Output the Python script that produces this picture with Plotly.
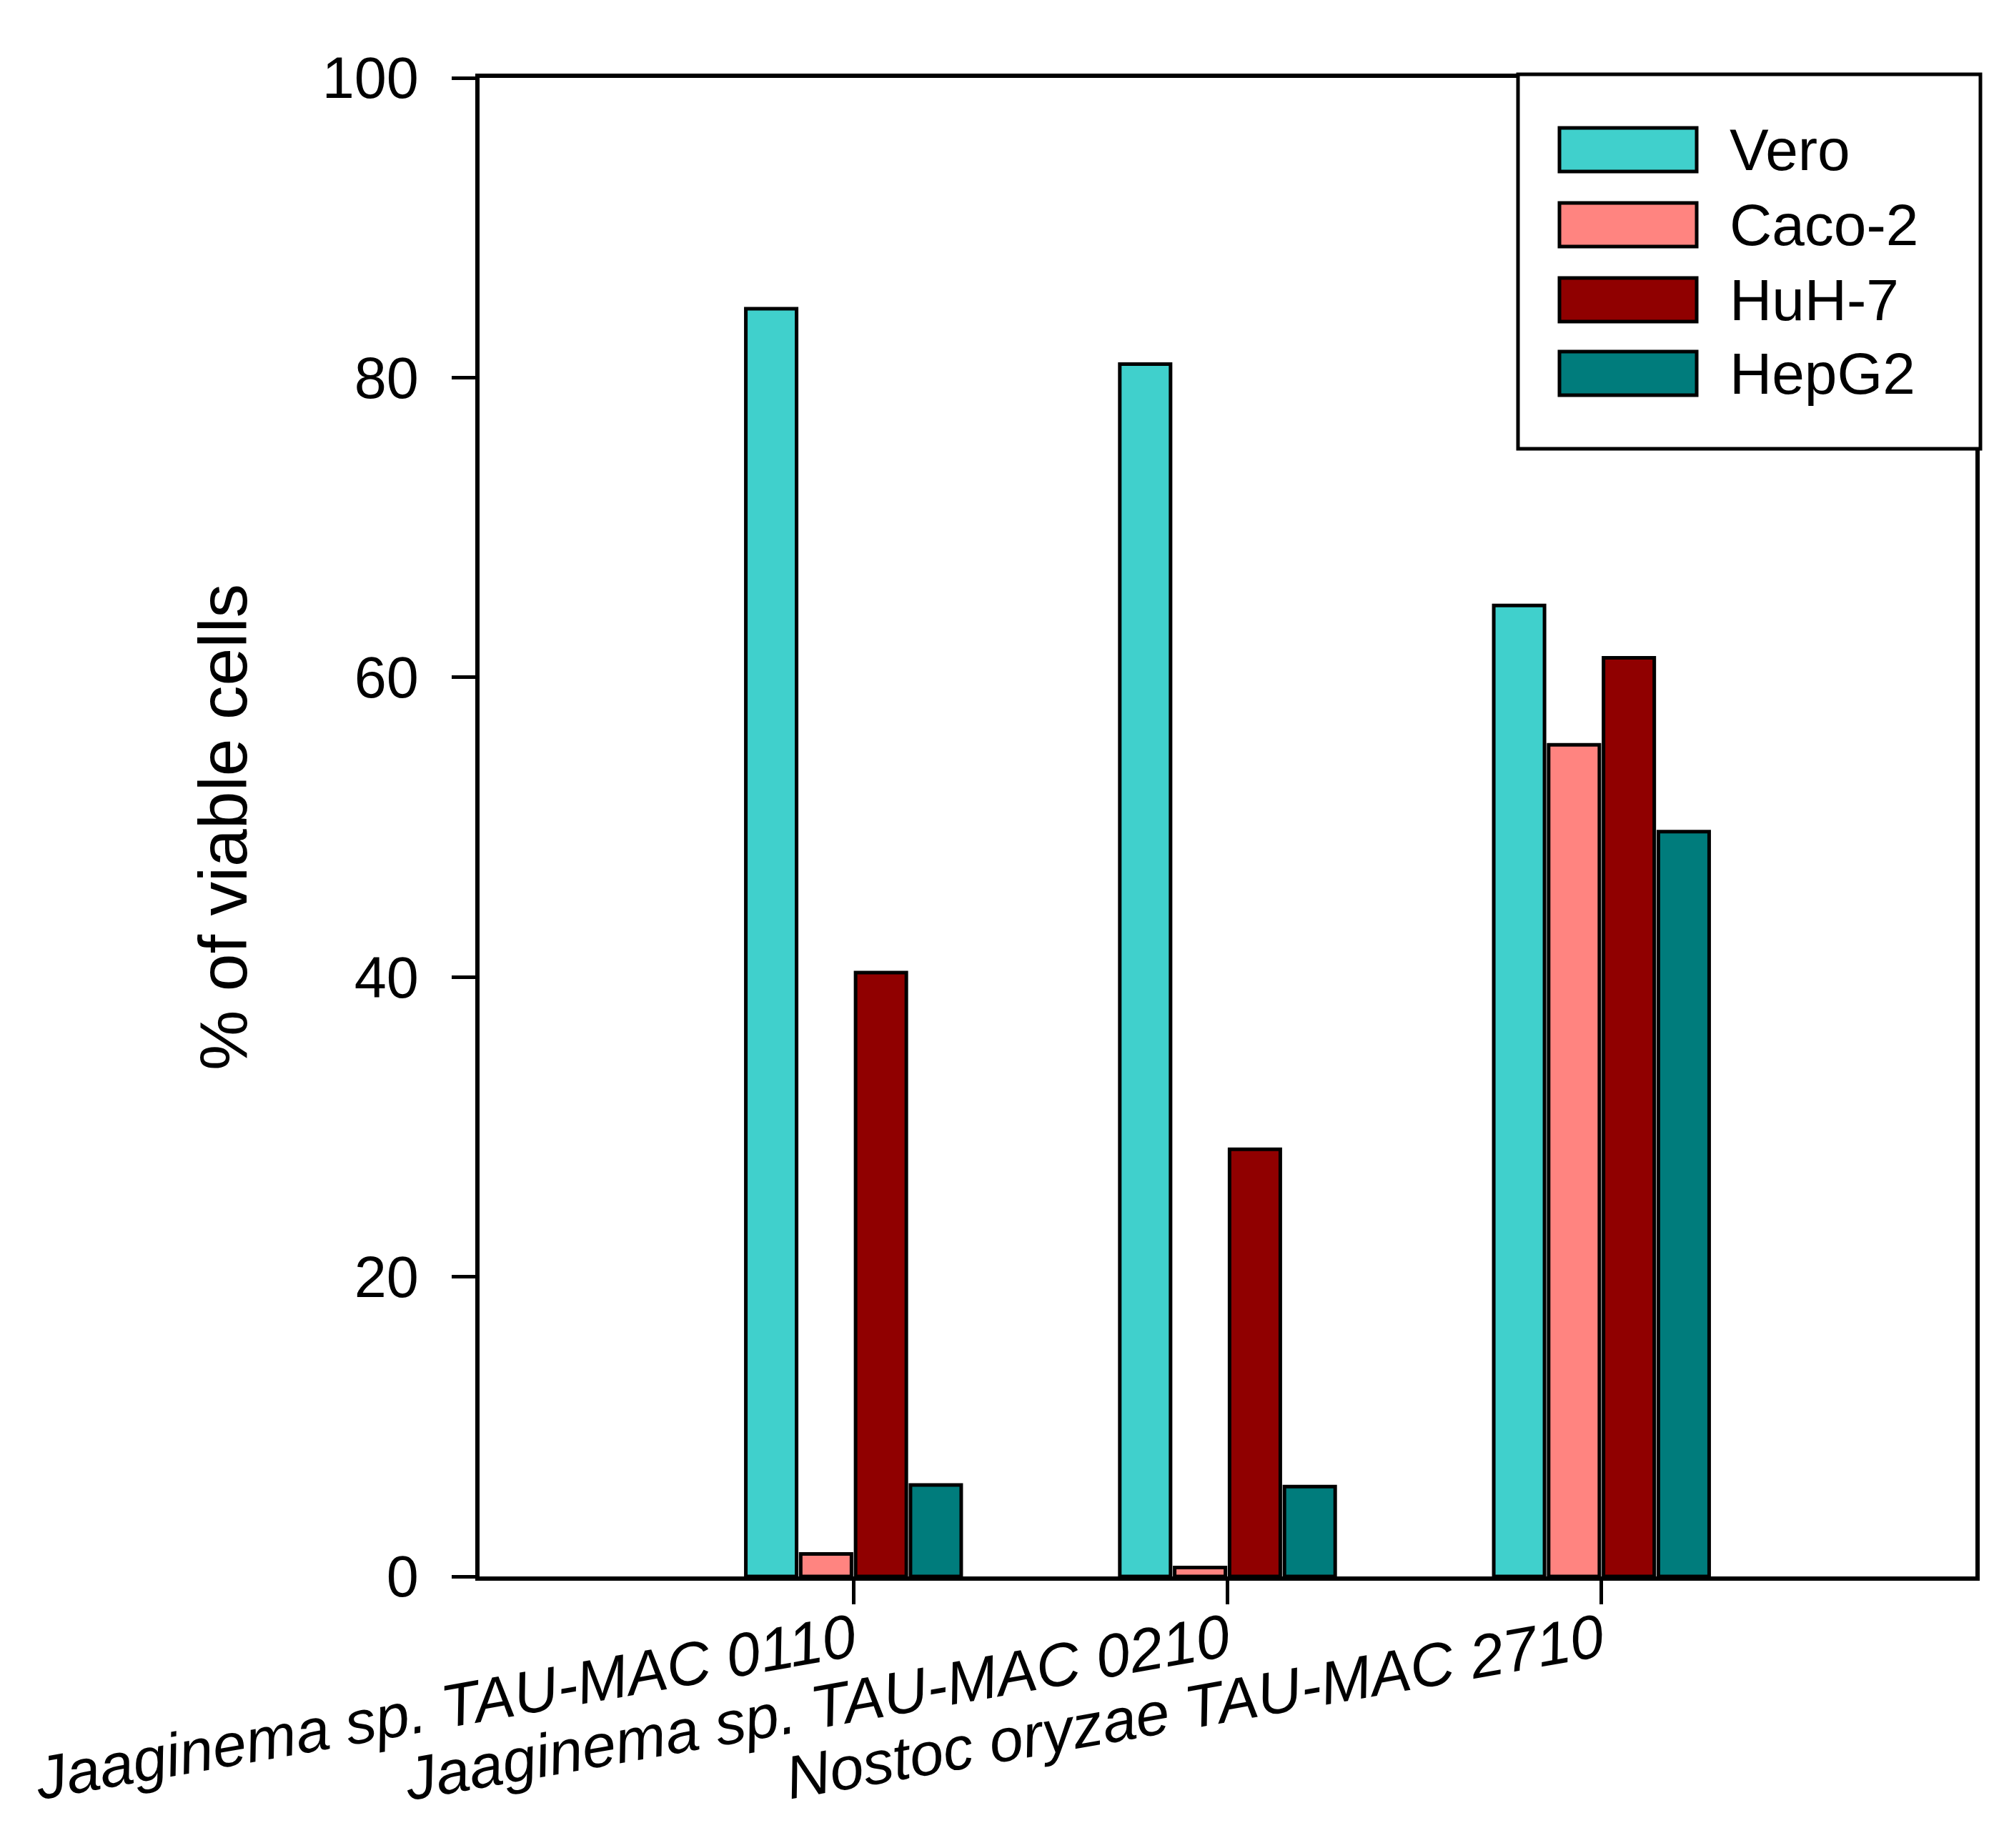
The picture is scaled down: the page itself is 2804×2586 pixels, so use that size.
import plotly.graph_objects as go

# ---- data ----
categories = ["Jaaginema sp. TAU-MAC 0110", "Jaaginema sp. TAU-MAC 0210", "Nostoc oryzae TAU-MAC 2710"]
cat_pos = [1, 2, 3]
series_names = ["Vero", "Caco-2", "HuH-7", "HepG2"]
vero = [84.6, 80.9, 64.8]
caco2 = [1.5, 0.6, 55.5]
huh7 = [40.3, 28.5, 61.3]
hepg2 = [6.1, 6.0, 49.7]
series_values = [vero, caco2, huh7, hepg2]
colors = ["#40D0CC", "#FF8480", "#900000", "#007C7C"]
y_ticks = [0, 20, 40, 60, 80, 100]

W, H = 2804, 2586
L, R, T, B = 663, 2756, 101, 2198
FONT = "Liberation Sans, Arial, sans-serif"

fig = go.Figure()
for name, vals, col in zip(series_names, series_values, colors):
    fig.add_trace(go.Bar(
        x=cat_pos, y=vals, name=name,
        marker=dict(color=col, line=dict(color="black", width=5)),
        showlegend=False,
    ))

def px_x(p):
    return (p - L) / (R - L)

def px_y(p):
    return (B - p) / (B - T)

shapes = []
annotations = []
# legend box
shapes.append(dict(type="rect", xref="paper", yref="paper",
                   x0=px_x(2116), x1=px_x(2763), y0=px_y(620), y1=px_y(96),
                   line=dict(color="black", width=5), fillcolor="white", layer="above"))
sw_top = [171, 276, 381, 484]
for i, (name, col) in enumerate(zip(series_names, colors)):
    y0 = sw_top[i]
    y1 = y0 + 61
    shapes.append(dict(type="rect", xref="paper", yref="paper",
                       x0=px_x(2174), x1=px_x(2366), y0=px_y(y1), y1=px_y(y0),
                       line=dict(color="black", width=5), fillcolor=col, layer="above"))
    annotations.append(dict(xref="paper", yref="paper", x=px_x(2410), y=px_y((y0 + y1) / 2),
                            text=name, showarrow=False, xanchor="left", yanchor="middle",
                            font=dict(family=FONT, size=82, color="black")))

fig.update_layout(
    width=W, height=H,
    margin=dict(l=L, r=W - R, t=T, b=H - B, autoexpand=False),
    paper_bgcolor="white", plot_bgcolor="white",
    barmode="group", bargap=0.413, bargroupgap=0.075,
    font=dict(family=FONT, color="black"),
    shapes=shapes, annotations=annotations,
)
fig.update_xaxes(
    range=[0, 4], tickvals=cat_pos, ticktext=["<i>" + c + "</i>" for c in categories], tickangle=-10,
    tickfont=dict(family=FONT, size=85, color="black"),
    showline=True, linecolor="black", linewidth=6, mirror=True,
    ticks="outside", ticklen=33, tickwidth=5, tickcolor="black",
    ticklabelstandoff=-30,
    showgrid=False, zeroline=False, automargin=False,
)
fig.update_yaxes(
    range=[0, 100], tickvals=y_ticks,
    tickfont=dict(family=FONT, size=81, color="black"),
    title=dict(text="% of viable cells", font=dict(family=FONT, size=95, color="black"), standoff=75),
    showline=True, linecolor="black", linewidth=6, mirror=True,
    ticks="outside", ticklen=33, tickwidth=5, tickcolor="black",
    ticklabelstandoff=30,
    showgrid=False, zeroline=False, automargin=False,
)

fig.write_html("out.html")
